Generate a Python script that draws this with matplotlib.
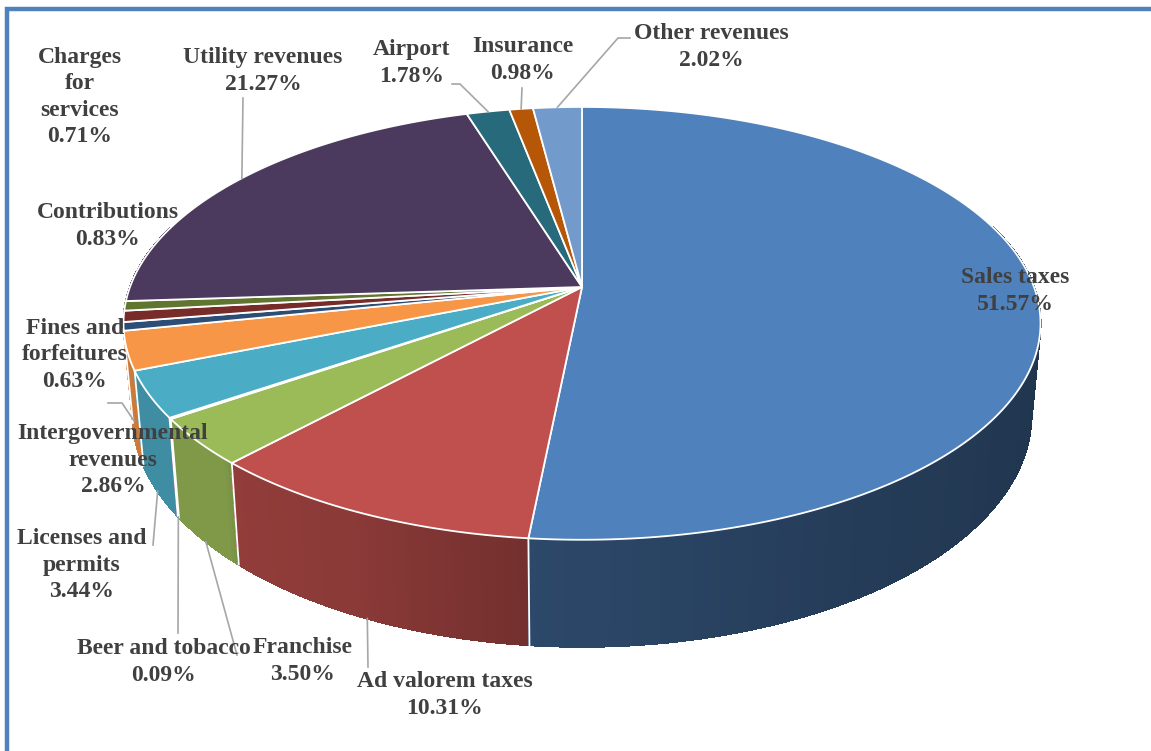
import numpy as np
import matplotlib.pyplot as plt
from matplotlib.patches import Polygon
from matplotlib.collections import PolyCollection
from matplotlib.colors import to_rgb

# revenue shares, clockwise from 12 o'clock
names = ["Sales taxes", "Ad valorem taxes", "Franchise", "Beer and tobacco",
         "Licenses and\npermits", "Intergovernmental\nrevenues", "Fines and\nforfeitures",
         "Contributions", "Charges\nfor\nservices", "Utility revenues", "Airport",
         "Insurance", "Other revenues"]
values = [51.57, 10.31, 3.50, 0.09, 3.44, 2.86, 0.63, 0.83, 0.71, 21.27, 1.78, 0.98, 2.02]
colors = ["#4F81BD", "#C0504D", "#9BBB59", "#8064A2", "#4BACC6", "#F79646",
          "#2C4D75", "#772C2A", "#5F7530", "#4B3A5E", "#276A7C", "#B65708", "#729ACA"]

# label centres (pixels)
label_xy = [(1015, 291), (445, 695), (303, 661), (164, 662), (82, 565), (113, 460),
            (75, 355), (108, 226), (80, 97), (263, 71), (412, 63), (523, 60), (711, 47)]
# leader line start / elbow points, the end is found on the slice
leader_pts = [None, [(368, 667)], [(237, 655)], [(178, 633)], [(153, 545)],
              [(108, 403), (122, 403)], None, None, None, [(243, 98)],
              [(452, 84), (460, 84)], [(522, 88)], [(630, 38), (618, 38)]]
# where the leader meets the slice: 0 = top rim, 1 = bottom of the wall
leader_t = [0, 1, 1, 1, 1, 0.75, 0, 0, 0, 0, 0, 0, 0]

# perspective disc
CX, CY = 582, 287
A, B, K = 452, 210.3, 0.168
DEPTH = 89
BOT_SCALE = 0.98


def project(phi, t=0.0):
    r = np.radians(phi)
    u, v = np.sin(r), -np.cos(r)
    w = 1 - K * v
    x = CX + A * u / w
    y = CY + B * v / w
    x = CX + (x - CX) * (1 - (1 - BOT_SCALE) * t)
    y = y + t * DEPTH / w
    return x, y


def wall_shade(phi):
    return np.interp(phi, [0, 90, 150, 185.6, 185.7, 205, 222.5, 224, 250, 260, 360],
                     [0.39, 0.39, 0.47, 0.56, 0.60, 0.72, 0.76, 0.82, 0.82, 0.86, 0.86])


total = sum(values)
edges = np.concatenate([[0], np.cumsum(values)]) * 360 / total

fig = plt.figure(figsize=(11.51, 7.51), dpi=100)
ax = fig.add_axes([0, 0, 1, 1])
ax.set_xlim(0, 1151)
ax.set_ylim(751, 0)
ax.axis('off')

# side walls, back to front
segs = []
for i in range(len(values)):
    a0, a1 = edges[i], edges[i + 1]
    n = max(2, int((a1 - a0) / 0.5) + 1)
    ph = np.linspace(a0, a1, n)
    base = np.array(to_rgb(colors[i]))
    for p0, p1 in zip(ph[:-1], ph[1:]):
        pm = 0.5 * (p0 + p1)
        vm = -np.cos(np.radians(pm))
        if vm < -0.3:
            continue
        quad = [project(p0), project(p1), project(p1, 1), project(p0, 1)]
        segs.append((vm, quad, tuple(base * wall_shade(pm))))
segs.sort(key=lambda s: s[0])
ax.add_collection(PolyCollection([s[1] for s in segs], facecolors=[s[2] for s in segs],
                                 edgecolors=[s[2] for s in segs], linewidths=0.8,
                                 antialiased=False, zorder=1))

# white seams between slices on the visible wall
for e in edges[1:-1]:
    if -np.cos(np.radians(e)) > K:
        (x0, y0), (x1, y1) = project(e), project(e, 1)
        ax.plot([x0, x1], [y0, y1], color='white', lw=1.3, zorder=2)

# top faces
for i in range(len(values)):
    ph = np.linspace(edges[i], edges[i + 1], max(3, int((edges[i + 1] - edges[i]) / 0.25)))
    pts = [(CX, CY)] + [project(p) for p in ph]
    ax.add_patch(Polygon(pts, closed=True, facecolor=colors[i], edgecolor='white',
                         lw=1.3, joinstyle='round', zorder=3))

# leader lines
for i, pts in enumerate(leader_pts):
    if pts is None:
        continue
    mid = 0.5 * (edges[i] + edges[i + 1])
    line = pts + [project(mid, leader_t[i])]
    ax.plot([p[0] for p in line], [p[1] for p in line], color='#A6A6A6', lw=1.2, zorder=4)

# data labels
for i in range(len(values)):
    ax.text(label_xy[i][0], label_xy[i][1], f"{names[i]}\n{values[i]:.2f}%",
            ha='center', va='center', multialignment='center', linespacing=1.32,
            fontsize=17, fontweight='bold', family='Liberation Serif', color='#404040',
            zorder=5)

# frame
ax.plot([7, 7, 1151], [751, 9, 9], color='#4F81BD', lw=3.2, solid_joinstyle='miter',
        zorder=6)

fig.savefig('out.png', dpi=100)
